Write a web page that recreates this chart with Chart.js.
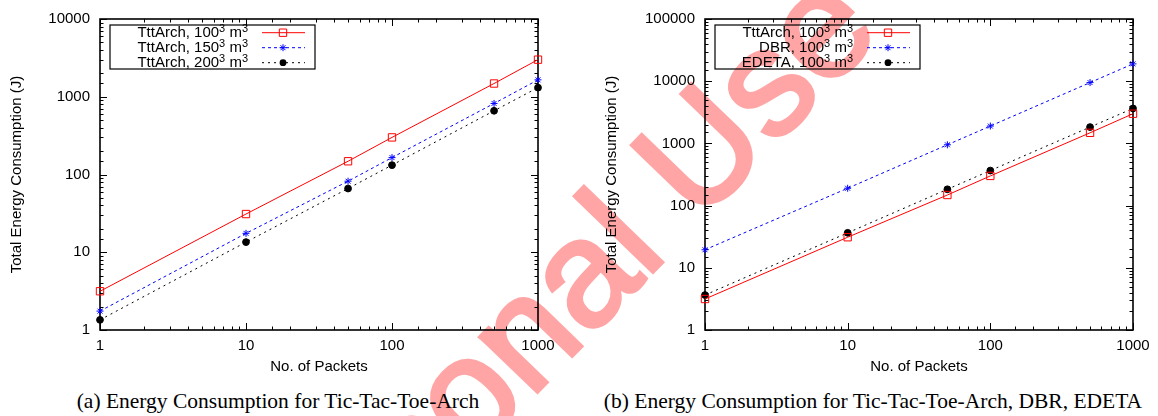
<!DOCTYPE html>
<html>
<head>
<meta charset="utf-8">
<script src="https://cdn.jsdelivr.net/npm/chart.js@4.4.1/dist/chart.umd.min.js"></script>
<style>
  html, body { margin: 0; padding: 0; background: #fff; }
  body { width: 1158px; height: 416px; position: relative; overflow: hidden; }
  .watermark {
    position: absolute; left: 258px; top: 554px;
    font: 150px/150px "Liberation Sans", Arial, sans-serif;
    color: rgb(255, 165, 165); -webkit-text-stroke: 4px rgb(255, 165, 165);
    white-space: nowrap;
    transform-origin: 0 127px; transform: rotate(-46deg);
  }
  .panel { position: absolute; top: 0; height: 380px; }
  #panelA { left: 0; width: 580px; }
  #panelB { left: 580px; width: 578px; }
  .caption {
    position: absolute; top: 391px; white-space: nowrap;
    font: 21.5px/21.5px "Liberation Serif", "Times New Roman", serif;
    transform: translateX(-50%);
  }
</style>
</head>
<body>
<div class="watermark">Personal Use Only</div>
<div class="panel" id="panelA"><canvas id="chartA" width="580" height="380"></canvas></div>
<div class="panel" id="panelB"><canvas id="chartB" width="578" height="380"></canvas></div>
<div class="caption" style="left:278px">(a) Energy Consumption for Tic-Tac-Toe-Arch</div>
<div class="caption" style="left:873px">(b) Energy Consumption for Tic-Tac-Toe-Arch, DBR, EDETA</div>
<script>
// values (log-log)
const packets = [1, 10, 50, 100, 500, 1000];
const tttArch100 = [3.15, 31, 148, 300, 1480, 3000];
const tttArch150 = [1.75, 17.5, 82, 165, 820, 1650];
const tttArch200 = [1.35, 13.5, 66, 132, 660, 1310];
const dbr100 = [19.5, 190, 950, 1900, 9500, 19000];
const edeta100 = [3.65, 36.5, 183, 366, 1830, 3650];

const xTickLabels = [1, 10, 100, 1000];
const yTickLabelsA = [1, 10, 100, 1000, 10000];
const yTickLabelsB = [1, 10, 100, 1000, 10000, 100000];

const FONT = "'Liberation Sans', Arial, sans-serif";

// gnuplot-like line types
const styles = {
    red:   { color: '#ff0000', dash: [],     point: 'rect',   radius: 5.2, fill: 'rgba(0,0,0,0)' },
    blue:  { color: '#0000ff', dash: [3, 3], point: 'star',   radius: 3.5, fill: '#0000ff' },
    black: { color: '#000000', dash: [2, 4], point: 'circle', radius: 3.4, fill: '#000000' },
};

function series(label, values, style) {
    return {
        label,
        data: packets.map((p, i) => ({ x: p, y: values[i] })),
        borderColor: style.color,
        borderWidth: 1,
        borderDash: style.dash,
        pointStyle: style.point,
        pointRadius: style.radius,
        pointBorderColor: style.color,
        pointBackgroundColor: style.fill,
        pointBorderWidth: 1,
        tension: 0,
        fill: false,
        clip: false,
    };
}

function isDecade(v) {
    const e = Math.log10(v);
    return Math.abs(e - Math.round(e)) < 1e-9;
}

// border box plus inward ticks on all four sides
const framePlugin = {
    id: 'gnuplotFrame',
    beforeDatasetsDraw(chart) {
        const { ctx, chartArea: a, scales: { x, y } } = chart;
        ctx.save();
        ctx.strokeStyle = '#000';
        ctx.lineWidth = 1;
        ctx.beginPath();
        x.ticks.forEach(t => {
            const px = Math.round(x.getPixelForValue(t.value)) + 0.5;
            const len = isDecade(t.value) ? 7 : 3.5;
            ctx.moveTo(px, a.bottom); ctx.lineTo(px, a.bottom - len);
            ctx.moveTo(px, a.top); ctx.lineTo(px, a.top + len);
        });
        y.ticks.forEach(t => {
            const py = Math.round(y.getPixelForValue(t.value)) + 0.5;
            const len = isDecade(t.value) ? 7 : 3.5;
            ctx.moveTo(a.left, py); ctx.lineTo(a.left + len, py);
            ctx.moveTo(a.right, py); ctx.lineTo(a.right - len, py);
        });
        ctx.stroke();
        ctx.lineWidth = 1.6;
        ctx.strokeRect(a.left, a.top, a.right - a.left, a.bottom - a.top);
        ctx.restore();
    }
};

function drawLabel(ctx, text, right, y) {
    const parts = text.split(/(³)/).filter(Boolean);
    const main = `15px ${FONT}`, sup = `11px ${FONT}`;
    const widths = parts.map(p => {
        ctx.font = p === '³' ? sup : main;
        return ctx.measureText(p === '³' ? '3' : p).width;
    });
    let x = right - widths.reduce((a, b) => a + b, 0);
    parts.forEach((p, i) => {
        if (p === '³') { ctx.font = sup; ctx.fillText('3', x, y - 4); }
        else { ctx.font = main; ctx.fillText(p, x, y); }
        x += widths[i];
    });
}

function drawMarker(ctx, style, x, y) {
    ctx.save();
    ctx.strokeStyle = style.color;
    ctx.fillStyle = style.fill;
    ctx.lineWidth = 1;
    ctx.setLineDash([]);
    const r = style.radius;
    ctx.beginPath();
    if (style.point === 'rect') {
        const s = r * Math.SQRT1_2;
        ctx.rect(x - s, y - s, 2 * s, 2 * s);
        ctx.stroke();
    } else if (style.point === 'star') {
        const d = r * Math.SQRT1_2;
        ctx.moveTo(x - r, y); ctx.lineTo(x + r, y);
        ctx.moveTo(x, y - r); ctx.lineTo(x, y + r);
        ctx.moveTo(x - d, y - d); ctx.lineTo(x + d, y + d);
        ctx.moveTo(x - d, y + d); ctx.lineTo(x + d, y - d);
        ctx.stroke();
    } else {
        ctx.arc(x, y, r, 0, Math.PI * 2);
        ctx.fill();
    }
    ctx.restore();
}

// key box in the top left, text then sample like gnuplot
const keyPlugin = {
    id: 'gnuplotKey',
    afterDraw(chart, args, opts) {
        const { ctx, chartArea: a } = chart;
        const bx = a.left + 10, by = a.top + 6, bw = 205, bh = 44;
        ctx.save();
        ctx.strokeStyle = '#000';
        ctx.lineWidth = 1.2;
        ctx.strokeRect(bx, by, bw, bh);
        ctx.fillStyle = '#000';
        ctx.textBaseline = 'middle';
        ctx.textAlign = 'left';
        chart.data.datasets.forEach((ds, i) => {
            const style = opts.styles[i];
            const ry = by + 7.7 + i * 15;
            drawLabel(ctx, ds.label, bx + 138, ry);
            ctx.strokeStyle = style.color;
            ctx.lineWidth = 1;
            ctx.setLineDash(style.dash);
            ctx.beginPath();
            ctx.moveTo(bx + 152, ry); ctx.lineTo(bx + 195, ry);
            ctx.stroke();
            drawMarker(ctx, style, bx + 173, ry);
        });
        ctx.restore();
    }
};

function axes(yMax, yTickLabels, yWidth, yTitlePad) {
    return {
        x: {
            type: 'logarithmic', min: 1, max: 1000,
            grid: { display: false, drawTicks: false },
            border: { display: false },
            ticks: {
                autoSkip: false, maxRotation: 0, padding: 7, color: '#000',
                font: { family: FONT, size: 15 },
                callback: v => xTickLabels.includes(v) ? String(v) : ''
            },
            title: {
                display: true, text: 'No. of Packets', color: '#000',
                font: { family: FONT, size: 15 }, padding: { top: 0, bottom: 4 }
            },
            afterFit: s => { s.height = 50; }
        },
        y: {
            type: 'logarithmic', min: 1, max: yMax,
            grid: { display: false, drawTicks: false },
            border: { display: false },
            ticks: {
                autoSkip: false, padding: 10, color: '#000',
                font: { family: FONT, size: 15 },
                callback: v => yTickLabels.includes(v) ? String(v) : ''
            },
            title: {
                display: true, text: 'Total Energy Consumption (J)', color: '#000',
                font: { family: FONT, size: 15 }, padding: { top: yTitlePad, bottom: 0 }
            },
            afterFit: s => { s.width = yWidth; }
        }
    };
}

function makeChart(id, datasets, keyStyles, scales, padRight) {
    return new Chart(document.getElementById(id), {
        type: 'line',
        data: { datasets },
        options: {
            animation: false,
            responsive: false,
            devicePixelRatio: 1,
            layout: { padding: { left: 0, right: padRight, top: 17, bottom: 0 } },
            plugins: {
                legend: { display: false },
                tooltip: { enabled: false },
                gnuplotKey: { styles: keyStyles }
            },
            scales
        },
        plugins: [framePlugin, keyPlugin]
    });
}

makeChart('chartA', [
    series('TttArch, 100³ m³', tttArch100, styles.red),
    series('TttArch, 150³ m³', tttArch150, styles.blue),
    series('TttArch, 200³ m³', tttArch200, styles.black),
], [styles.red, styles.blue, styles.black], axes(10000, yTickLabelsA, 100, 7.6), 42);

makeChart('chartB', [
    series('TttArch, 100³ m³', tttArch100, styles.red),
    series('DBR, 100³ m³', dbr100, styles.blue),
    series('EDETA, 100³ m³', edeta100, styles.black),
], [styles.red, styles.blue, styles.black], axes(100000, yTickLabelsB, 125, 23), 25);
</script>
</body>
</html>
